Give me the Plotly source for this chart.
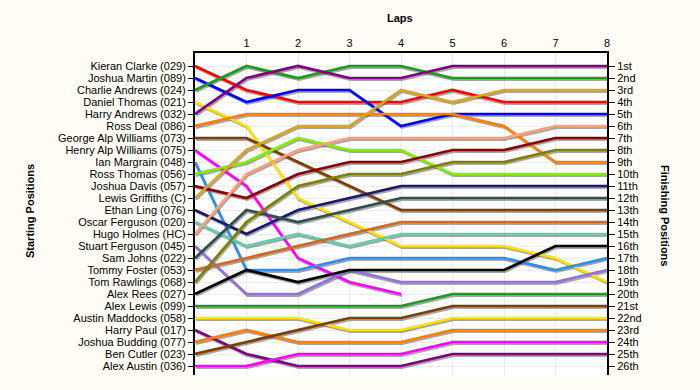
import plotly.graph_objects as go

laps = [0, 1, 2, 3, 4, 5, 6, 7, 8]
lap_labels = ["", "1", "2", "3", "4", "5", "6", "7", "8"]

drivers = [
    "Kieran Clarke (029)", "Joshua Martin (089)", "Charlie Andrews (024)", "Daniel Thomas (021)",
    "Harry Andrews (032)", "Ross Deal (086)", "George Alp Williams (073)", "Henry Alp Williams (075)",
    "Ian Margrain (048)", "Ross Thomas (056)", "Joshua Davis (057)", "Lewis Griffiths (C)",
    "Ethan Ling (076)", "Oscar Ferguson (020)", "Hugo Holmes (HC)", "Stuart Ferguson (045)",
    "Sam Johns (022)", "Tommy Foster (053)", "Tom Rawlings (068)", "Alex Rees (027)",
    "Alex Lewis (099)", "Austin Maddocks (058)", "Harry Paul (017)", "Joshua Budding (077)",
    "Ben Cutler (023)", "Alex Austin (036)",
]

finish_labels = [
    "1st", "2nd", "3rd", "4th", "5th", "6th", "7th", "8th", "9th", "10th",
    "11th", "12th", "13th", "14th", "15th", "16th", "17th", "18th", "19th", "20th",
    "21st", "22nd", "23rd", "24th", "25th", "26th",
]

positions = [
    [1, 3, 4, 4, 4, 3, 4, 4, 4],
    [2, 4, 3, 3, 6, 5, 5, 5, 5],
    [3, 1, 2, 1, 1, 2, 2, 2, 2],
    [4, 6, 12, 14, 16, 16, 16, 17, 19],
    [5, 2, 1, 2, 2, 1, 1, 1, 1],
    [6, 5, 5, 5, 5, 5, 6, 9, 9],
    [7, 7, 9, 11, 13, 13, 13, 13, 13],
    [8, 11, 17, 19, 20],
    [9, 18, 18, 17, 17, 17, 17, 18, 17],
    [10, 9, 7, 8, 8, 10, 10, 10, 10],
    [11, 12, 10, 9, 9, 8, 8, 7, 7],
    [12, 8, 6, 6, 3, 4, 3, 3, 3],
    [13, 15, 13, 12, 11, 11, 11, 11, 11],
    [14, 16, 15, 16, 15, 15, 15, 15, 15],
    [15, 10, 8, 7, 7, 7, 7, 6, 6],
    [16, 20, 20, 18, 19, 19, 19, 19, 18],
    [17, 13, 14, 13, 12, 12, 12, 12, 12],
    [18, 17, 16, 15, 14, 14, 14, 14, 14],
    [19, 14, 11, 10, 10, 9, 9, 8, 8],
    [20, 18, 19, 18, 18, 18, 18, 16, 16],
    [21, 21, 21, 21, 21, 20, 20, 20, 20],
    [22, 22, 22, 23, 23, 22, 22, 22, 22],
    [23, 25, 26, 26, 26, 25, 25, 25, 25],
    [24, 23, 24, 24, 24, 23, 23, 23, 23],
    [25, 24, 23, 22, 22, 21, 21, 21, 21],
    [26, 26, 25, 25, 25, 24, 24, 24, 24],
]

colors = [
    "#FF0000", "#0000FF", "#1E9A1E", "#FFE400", "#800080", "#FF8000", "#7B3F00", "#FF00FF",
    "#2E8FEA", "#80F000", "#8B0000", "#DAA520", "#191970", "#66CDAA", "#FFA07A", "#9370DB",
    "#2F4F4F", "#D2691E", "#808000", "#000000", "#1E9A1E", "#FFE400", "#800080", "#FF8000",
    "#7B3F00", "#FF00FF",
]

FONT = "Liberation Sans, Arial, sans-serif"
L, R, T, B = 195, 93, 53, 15
W, H = 700, 390
pw = W - L - R
ph = H - T - B
x_range = [0, 8]
y_top = 1 - 13 / 12
y_bot = 26 + 9 / 12
px_x = (x_range[1] - x_range[0]) / pw
px_y = (y_bot - y_top) / ph
sdx, sdy = 1.0 * px_x, 1.6 * px_y

fig = go.Figure()

# shadows (base axes, shifted range)
for pos in positions:
    fig.add_trace(go.Scatter(
        x=laps[:len(pos)], y=pos, mode="lines", xaxis="x", yaxis="y",
        line=dict(color="rgba(60,60,60,0.45)", width=2.7), hoverinfo="skip", showlegend=False,
    ))

# main lines
for name, pos, c in zip(drivers, positions, colors):
    fig.add_trace(go.Scatter(
        x=laps[:len(pos)], y=pos, mode="lines", xaxis="x2", yaxis="y2",
        line=dict(color=c, width=2.7), name=name, showlegend=False,
    ))

# helper trace for right axis
fig.add_trace(go.Scatter(x=[0], y=[1], xaxis="x2", yaxis="y3", mode="markers",
                         marker=dict(opacity=0), hoverinfo="skip", showlegend=False))

fig.update_layout(
    width=W, height=H,
    margin=dict(l=L, r=R, t=T, b=B),
    paper_bgcolor="#FFFDF5", plot_bgcolor="#FFFFFF",
    font=dict(family=FONT, size=11, color="#000000"),
    xaxis=dict(range=[x_range[0] - sdx, x_range[1] - sdx], visible=False, showgrid=False),
    yaxis=dict(range=[y_bot - sdy, y_top - sdy], visible=False, showgrid=False),
    xaxis2=dict(
        overlaying="x", side="top", anchor="y2", range=x_range,
        tickmode="array", tickvals=laps, ticktext=lap_labels,
        showgrid=True, gridcolor="#E8E8E8", gridwidth=1,
        showline=True, linecolor="#000000", linewidth=2, ticks="", zeroline=False,
        tickfont=dict(family=FONT, size=11),
    ),
    yaxis2=dict(
        overlaying="y", side="left", anchor="x2", range=[y_bot, y_top],
        tickmode="array", tickvals=list(range(1, 27)), ticktext=drivers,
        showgrid=True, gridcolor="#EBEBEB", gridwidth=1,
        showline=True, linecolor="#000000", linewidth=2,
        ticks="outside", ticklen=5, tickwidth=1, tickcolor="#000000", zeroline=False,
        tickfont=dict(family=FONT, size=11),
    ),
    yaxis3=dict(
        overlaying="y", side="right", anchor="x2", range=[y_bot, y_top],
        tickmode="array", tickvals=list(range(1, 27)), ticktext=finish_labels,
        showgrid=False, showline=True, linecolor="#000000", linewidth=2,
        ticks="outside", ticklen=6, tickwidth=1, tickcolor="#000000", zeroline=False,
        tickfont=dict(family=FONT, size=11),
    ),
    annotations=[
        dict(text="<b>Laps</b>", xref="paper", yref="paper", x=(400 - L) / pw, y=(H - B - 18) / ph,
             showarrow=False, font=dict(family=FONT, size=11), xanchor="center", yanchor="middle"),
        dict(text="<b>Starting Positions</b>", xref="paper", yref="paper", x=(30 - L) / pw,
             y=(H - B - 211) / ph, textangle=-90, showarrow=False,
             font=dict(family=FONT, size=11), xanchor="center", yanchor="middle"),
        dict(text="<b>Finishing Positions</b>", xref="paper", yref="paper", x=(665 - L) / pw,
             y=(H - B - 215) / ph, textangle=90, showarrow=False,
             font=dict(family=FONT, size=11), xanchor="center", yanchor="middle"),
    ],
)

fig.write_html(
    "out.html",
    config={"displayModeBar": False},
    post_script="document.body.style.margin='0';document.body.style.overflow='hidden';",
)
